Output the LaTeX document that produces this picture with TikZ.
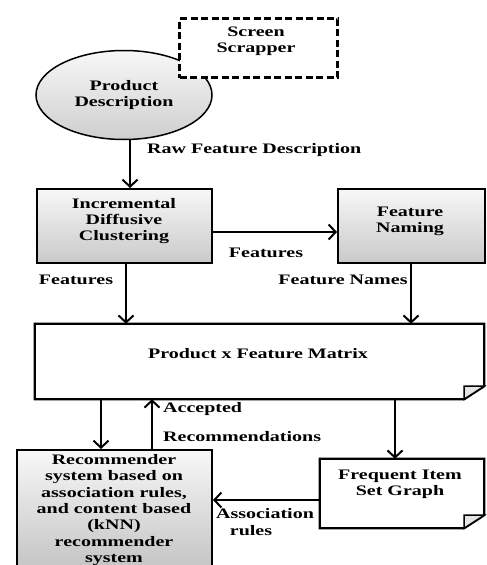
\documentclass[tikz,border=0pt]{standalone}
\usepackage{fontspec}
\setmainfont{Liberation Serif}[FakeStretch=1.38]
\usetikzlibrary{arrows.meta,shapes.geometric,calc}
\begin{document}
\begin{tikzpicture}[x=1pt,y=-1pt,
  every node/.style={font=\fontsize{14.5}{16.3}\selectfont\bfseries, text=black},
  shadedbox/.style={draw, line width=2pt, rectangle, top color=gray!6, bottom color=gray!42, inner sep=0pt},
  plainbox/.style={rectangle, inner sep=0pt},
  arr/.style={line width=2.8pt, -{Straight Barb[length=7pt,width=15pt,line width=2pt]}},
  lbl/.style={inner sep=0pt}
]
\useasboundingbox (0,0) rectangle (487,565);

% Product Description ellipse
\node[ellipse, draw, line width=1.5pt, top color=gray!6, bottom color=gray!38,
      minimum width=176pt, minimum height=89pt, inner sep=0pt, align=center] (pd) at (124,95) {Product\\Description};

% Screen Scrapper
\node[rectangle, draw, dash pattern=on 7pt off 3.5pt, line width=2.6pt, fill=white,
      minimum width=158pt, minimum height=59pt, inner sep=0pt] (ss) at (258.5,48) {};
\node[lbl, align=center] (sst) at (256,41) {Screen\\Scrapper};

% Incremental Diffusive Clustering
\node[shadedbox, minimum width=175pt, minimum height=74pt] (idc) at (124.5,226) {};
\node[lbl, align=center] (idct) at (124,221) {Incremental\\Diffusive\\Clustering};

% Feature Naming
\node[shadedbox, minimum width=147pt, minimum height=74pt] (fn) at (411.5,226) {};
\node[lbl, align=center] (fnt) at (410,221) {Feature\\Naming};

% Product x Feature Matrix (document shape)
\node[plainbox, minimum width=449pt, minimum height=75pt] (m) at (259.5,361.5) {};
\draw[line width=2.2pt, fill=white] (m.north west) -- (m.north east) -- ([yshift=13pt]m.south east)
   -- ([xshift=-20pt]m.south east) -- (m.south west) -- cycle;
\draw[line width=1.5pt, fill=gray!20] ([xshift=-20pt]m.south east) -- ([xshift=-20pt,yshift=13pt]m.south east)
   -- ([yshift=13pt]m.south east) -- cycle;
\node[lbl] (mt) at (258,354) {Product x Feature Matrix};

% Recommender system
\node[shadedbox, minimum width=195pt, minimum height=125pt, bottom color=gray!48] (rec) at (114.5,512.5) {};
\node[lbl, align=center] (rect) at (114,510) {Recommender\\system based on\\association rules,\\and content based\\(kNN)\\recommender\\system};

% Frequent Item Set Graph (document shape)
\node[plainbox, minimum width=164pt, minimum height=69pt] (fi) at (402,493.5) {};
\draw[line width=2.2pt, fill=white] (fi.north west) -- (fi.north east) -- ([yshift=13pt]fi.south east)
   -- ([xshift=-20pt]fi.south east) -- (fi.south west) -- cycle;
\draw[line width=1.5pt, fill=gray!20] ([xshift=-20pt]fi.south east) -- ([xshift=-20pt,yshift=13pt]fi.south east)
   -- ([yshift=13pt]fi.south east) -- cycle;
\node[lbl, align=center] (fit) at (400,484.5) {Frequent Item\\Set Graph};

% Connectors
\draw[arr] ([xshift=6pt]pd.south) -- ([xshift=5.5pt]idc.north);
\draw[arr] ([yshift=-6pt]idc.east) -- ([yshift=-6pt]fn.west);
\draw[arr] ([xshift=1.5pt]idc.south) -- ([xshift=-133.5pt]m.north);
\draw[arr] ([xshift=-0.5pt]fn.south) -- ([xshift=151.5pt]m.north);
\draw[arr] ([xshift=-13.5pt]m.south -| rec.north) -- ([xshift=-13.5pt]rec.north);
\draw[arr] ([xshift=37.5pt]rec.north) -- ([xshift=37.5pt]m.south -| rec.north);
\draw[arr] ([xshift=-7pt]m.south -| fi.north) -- ([xshift=-7pt]fi.north);
\draw[arr] ([yshift=-6.5pt]fi.west) -- ([yshift=12.5pt]rec.east);

% Connector labels
\node[lbl, anchor=west] (l1) at (147,150) {Raw Feature Description};
\node[lbl] (l2) at (266,253) {Features};
\node[lbl] (l3) at (76,280) {Features};
\node[lbl] (l4) at (343,280) {Feature Names};
\node[lbl, anchor=west] (l5) at (163,409) {Accepted};
\node[lbl, anchor=west] (l6) at (163,437) {Recommendations};
\node[lbl] (l7) at (265,514) {Association};
\node[lbl] (l8) at (251,531) {rules};
\end{tikzpicture}
\end{document}
